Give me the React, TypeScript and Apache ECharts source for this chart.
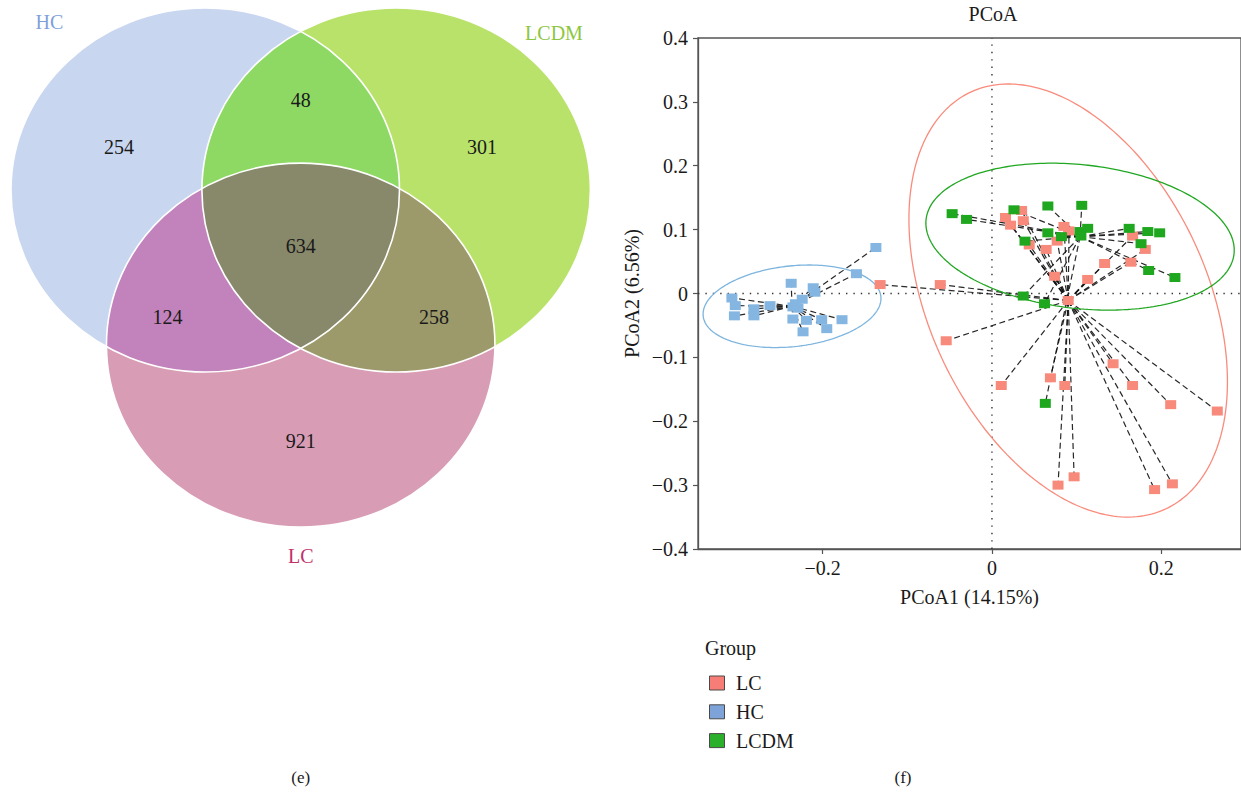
import React, { useEffect, useRef } from "react";
import * as echarts from "echarts";

// ---------- Venn diagram (panel e) ----------
const vennSets = ["HC", "LCDM", "LC"];
const vennSetColors = ["#7f9fd8", "#8dc63f", "#c0326a"];
const vennRegions = ["HC", "LCDM", "LC", "HC∩LCDM", "HC∩LC", "LCDM∩LC", "HC∩LCDM∩LC"];
const vennCounts = [254, 301, 921, 48, 124, 258, 634];
const vennRegionColors = ["#c8d6f0", "#b9e26a", "#d89db5", "#8ed964", "#c282bb", "#9c996a", "#88896b"];

// ---------- PCoA (panel f) ----------
const groups = ["LC", "HC", "LCDM"];
const groupColors = ["#f88a7b", "#85b6e1", "#1fa71f"];
const legendColors = ["#f87d76", "#7ea3d9", "#2bb02b"];
const ellipseColors = ["#f98b7c", "#7db5de", "#22a722"];

const lcPoints: number[][] = [
  [-0.132, 0.014], [-0.061, 0.014], [-0.054, -0.074], [0.011, -0.144], [0.069, -0.132],
  [0.086, -0.144], [0.078, -0.3], [0.097, -0.287], [0.143, -0.11], [0.166, -0.144],
  [0.211, -0.174], [0.266, -0.184], [0.192, -0.307], [0.213, -0.298], [0.09, -0.011],
  [0.074, 0.027], [0.113, 0.022], [0.133, 0.047], [0.164, 0.049], [0.181, 0.069],
  [0.166, 0.09], [0.064, 0.069], [0.044, 0.076], [0.077, 0.082], [0.085, 0.105],
  [0.091, 0.098], [0.016, 0.119], [0.022, 0.107], [0.037, 0.114], [0.035, 0.13],
];
const hcPoints: number[][] = [
  [-0.137, 0.072], [-0.16, 0.031], [-0.307, -0.007], [-0.303, -0.019], [-0.304, -0.035],
  [-0.281, -0.024], [-0.281, -0.035], [-0.262, -0.019], [-0.237, 0.016], [-0.211, 0.009],
  [-0.209, 0.002], [-0.224, -0.009], [-0.232, -0.016], [-0.229, -0.023], [-0.235, -0.021],
  [-0.235, -0.04], [-0.219, -0.042], [-0.201, -0.041], [-0.177, -0.041], [-0.195, -0.055],
  [-0.223, -0.06],
];
const lcdmPoints: number[][] = [
  [-0.047, 0.125], [-0.03, 0.116], [0.026, 0.131], [0.066, 0.137], [0.106, 0.138],
  [0.066, 0.095], [0.082, 0.089], [0.039, 0.082], [0.104, 0.097], [0.113, 0.102],
  [0.105, 0.09], [0.162, 0.102], [0.184, 0.097], [0.198, 0.095], [0.176, 0.078],
  [0.185, 0.036], [0.216, 0.025], [0.037, -0.004], [0.062, -0.016], [0.063, -0.172],
];
const groupPoints = [lcPoints, hcPoints, lcdmPoints];

// group centres (star centres and ellipse centres)
const groupCentres: number[][] = [[0.09, -0.011], [-0.236, -0.02], [0.104, 0.089]];
// ellipse spread along x, along y, and correlation
const ellipseSx = [0.188, 0.105, 0.182];
const ellipseSy = [0.339, 0.0646, 0.115];
const ellipseR = [-0.375, 0.19, -0.184];

const xTicks = [-0.2, 0, 0.2];
const X_MIN = -0.347;
const X_MAX = 0.294;

const FONT = '"Liberation Serif", "DejaVu Serif", serif';
const W = 1241;
const H = 793;

// Venn layout (pixels)
const VENN_RX = 194.25;
const VENN_RY = 182;
const vennCentres = [[205.25, 190], [396.15, 190], [300.7, 345.15]];
const vennSetLabelPos = [[49.4, 22], [554, 33], [300.7, 556]];
const vennCountPos = [[119, 147], [482, 147], [300.7, 441], [300.7, 100], [167.6, 317], [434, 317], [300.7, 246]];

function ellipseBoundary(c: number[], n: number): number[][] {
  const pts: number[][] = [];
  for (let i = 0; i < n; i++) {
    const t = (i / n) * Math.PI * 2;
    pts.push([c[0] + VENN_RX * Math.cos(t), c[1] + VENN_RY * Math.sin(t)]);
  }
  return pts;
}

function insideEllipse(c: number[], p: number[]): boolean {
  const dx = (p[0] - c[0]) / VENN_RX;
  const dy = (p[1] - c[1]) / VENN_RY;
  return dx * dx + dy * dy <= 1.0005;
}

// convex intersection of several ellipses as a polygon
function intersection(idx: number[]): number[][] {
  const pts: number[][] = [];
  idx.forEach((i) => {
    ellipseBoundary(vennCentres[i], 1440).forEach((p) => {
      if (idx.every((j) => j === i || insideEllipse(vennCentres[j], p))) pts.push(p);
    });
  });
  const mx = pts.reduce((s, p) => s + p[0], 0) / pts.length;
  const my = pts.reduce((s, p) => s + p[1], 0) / pts.length;
  pts.sort((a, b) => Math.atan2(a[1] - my, a[0] - mx) - Math.atan2(b[1] - my, b[0] - mx));
  return pts;
}

function vennGraphics(): any[] {
  const els: any[] = [];
  // single sets
  vennCentres.forEach((c, i) => {
    els.push({
      type: "ellipse", silent: true,
      shape: { cx: c[0], cy: c[1], rx: VENN_RX, ry: VENN_RY },
      style: { fill: vennRegionColors[i] },
    });
  });
  // pairwise overlaps, then the common core
  const combos = [[0, 1], [0, 2], [1, 2], [0, 1, 2]];
  combos.forEach((combo, k) => {
    els.push({
      type: "polygon", silent: true,
      shape: { points: intersection(combo) },
      style: { fill: vennRegionColors[3 + k] },
    });
  });
  // white outlines
  vennCentres.forEach((c) => {
    els.push({
      type: "ellipse", silent: true,
      shape: { cx: c[0], cy: c[1], rx: VENN_RX, ry: VENN_RY },
      style: { fill: "none", stroke: "#ffffff", lineWidth: 1.6 },
    });
  });
  vennCounts.forEach((v, i) => {
    els.push({
      type: "text", silent: true,
      x: vennCountPos[i][0], y: vennCountPos[i][1],
      style: { text: String(v), font: `20px ${FONT}`, fill: "#1a1a1a", align: "center", verticalAlign: "middle" },
    });
  });
  vennSets.forEach((s, i) => {
    els.push({
      type: "text", silent: true,
      x: vennSetLabelPos[i][0], y: vennSetLabelPos[i][1],
      style: { text: s, font: `20px ${FONT}`, fill: vennSetColors[i], align: "center", verticalAlign: "middle" },
    });
  });
  return els;
}

function legendGraphics(): any[] {
  const els: any[] = [
    {
      type: "text", silent: true, x: 705, y: 648,
      style: { text: "Group", font: `20px ${FONT}`, fill: "#1a1a1a", align: "left", verticalAlign: "middle" },
    },
  ];
  groups.forEach((g, i) => {
    const cy = 683 + i * 28.8;
    els.push({
      type: "rect", silent: true,
      shape: { x: 709.5, y: cy - 7, width: 15, height: 14 },
      style: { fill: legendColors[i], stroke: "#4a4a4a", lineWidth: 1 },
    });
    els.push({
      type: "text", silent: true, x: 736, y: cy,
      style: { text: g, font: `20px ${FONT}`, fill: "#1a1a1a", align: "left", verticalAlign: "middle" },
    });
  });
  return els;
}

function ellipseCurve(k: number): number[][] {
  const c = groupCentres[k];
  const sx = ellipseSx[k];
  const sy = ellipseSy[k];
  const r = ellipseR[k];
  const q = Math.sqrt(1 - r * r);
  const pts: number[][] = [];
  for (let i = 0; i <= 240; i++) {
    const t = (i / 240) * Math.PI * 2;
    pts.push([c[0] + sx * Math.cos(t), c[1] + sy * (r * Math.cos(t) + q * Math.sin(t))]);
  }
  return pts;
}

function fmt(v: number): string {
  const s = String(Number(v.toFixed(2)));
  return s.replace("-", "\u2212");
}

export default function App() {
  const ref = useRef<HTMLDivElement>(null);

  useEffect(() => {
    if (!ref.current) return;
    const chart = echarts.init(ref.current, undefined, { renderer: "svg" });

    const starData: any[] = [];
    groupPoints.forEach((pts, k) => {
      pts.forEach((p) => starData.push({ coords: [groupCentres[k], p] }));
    });

    const textStyle = { fontFamily: FONT, fontSize: 20, color: "#1a1a1a" };

    chart.setOption({
      animation: false,
      backgroundColor: "#ffffff",
      textStyle: { fontFamily: FONT },
      grid: {
        left: 698, top: 38, width: 545, height: 511,
        show: true, borderColor: "#555555", borderWidth: 1.3, backgroundColor: "transparent",
      },
      xAxis: {
        type: "value", min: X_MIN, max: X_MAX,
        name: "PCoA1 (14.15%)", nameLocation: "middle", nameGap: 38,
        nameTextStyle: textStyle,
        axisLine: { show: true, onZero: false, lineStyle: { color: "#555555", width: 1.3 } },
        axisTick: { show: true, length: 5, customValues: xTicks, lineStyle: { color: "#555555", width: 1.2 } },
        axisLabel: { ...textStyle, margin: 9, customValues: xTicks, formatter: (v: number) => fmt(v) },
        splitLine: { show: false },
      },
      yAxis: {
        type: "value", min: -0.4, max: 0.4, interval: 0.1,
        name: "PCoA2 (6.56%)", nameLocation: "middle", nameGap: 56,
        nameTextStyle: textStyle,
        axisLine: { show: true, onZero: false, lineStyle: { color: "#555555", width: 1.3 } },
        axisTick: { show: true, length: 5, lineStyle: { color: "#555555", width: 1.2 } },
        axisLabel: { ...textStyle, margin: 10, formatter: (v: number) => fmt(v) },
        splitLine: { show: false },
      },
      graphic: [
        ...vennGraphics(),
        ...legendGraphics(),
        {
          type: "text", silent: true, x: 993, y: 14,
          style: { text: "PCoA", font: `20px ${FONT}`, fill: "#1a1a1a", align: "center", verticalAlign: "middle" },
        },
        {
          type: "text", silent: true, x: 300.7, y: 777,
          style: { text: "(e)", font: `17px ${FONT}`, fill: "#1a1a1a", align: "center", verticalAlign: "middle" },
        },
        {
          type: "text", silent: true, x: 903, y: 777,
          style: { text: "(f)", font: `17px ${FONT}`, fill: "#1a1a1a", align: "center", verticalAlign: "middle" },
        },
      ],
      series: [
        {
          type: "line", data: [[0, -0.4], [0, 0.4]], symbol: "none", silent: true, z: 1,
          lineStyle: { color: "#333333", width: 1.4, type: [1.4, 6] },
        },
        {
          type: "line", data: [[X_MIN, 0], [X_MAX, 0]], symbol: "none", silent: true, z: 1,
          lineStyle: { color: "#333333", width: 1.4, type: [1.4, 6] },
        },
        {
          type: "lines", coordinateSystem: "cartesian2d", data: starData, silent: true, z: 2,
          lineStyle: { color: "#111111", width: 1.2, type: [6, 3.5], opacity: 0.9 },
        },
        ...groups.map((g, k) => ({
          name: g + " ellipse", type: "line", data: ellipseCurve(k), symbol: "none", silent: true, z: 3,
          lineStyle: { color: ellipseColors[k], width: 1.3 },
        })),
        ...groups.map((g, k) => ({
          name: g, type: "scatter", data: groupPoints[k], symbol: "rect", symbolSize: [11, 9], z: 4,
          itemStyle: { color: groupColors[k], opacity: 1 },
        })),
      ],
    });

    return () => chart.dispose();
  }, []);

  return (
    <div
      ref={ref}
      style={{ position: "absolute", left: 0, top: 0, width: W, height: H, background: "#ffffff" }}
    />
  );
}
